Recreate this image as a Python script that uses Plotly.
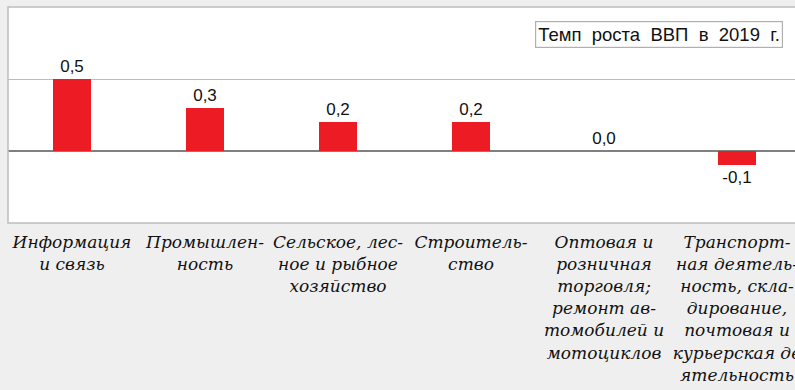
import plotly.graph_objects as go

# Отрасли и темп роста ВВП, 2019 г.
categories = [
    "Информация<br>и связь",
    "Промышлен-<br>ность",
    "Сельское, лес-<br>ное и рыбное<br>хозяйство",
    "Строитель-<br>ство",
    "Оптовая и<br>розничная<br>торговля;<br>ремонт ав-<br>томобилей и<br>мотоциклов",
    "Транспорт-<br>ная деятель-<br>ность, скла-<br>дирование,<br>почтовая и<br>курьерская де<br>ятельность",
]
growth = [0.5, 0.3, 0.2, 0.2, 0.0, -0.1]
series_name = "Темп роста ВВП в 2019 г."

labels = [f"{v:.1f}".replace(".", ",") for v in growth]
x_idx = list(range(len(categories)))

fig = go.Figure()
fig.add_trace(go.Bar(
    x=x_idx,
    y=growth,
    width=0.286,
    marker=dict(color="#ED1C24", line=dict(width=0)),
    text=labels,
    textposition="outside",
    textfont=dict(family="Liberation Sans, Arial, sans-serif", size=17, color="#111111"),
    cliponaxis=False,
    name=series_name,
    showlegend=False,
))

# рамка области построения (правый край уходит за пределы полотна)
fig.add_shape(type="rect", xref="paper", yref="paper", x0=0, x1=1.02, y0=0, y1=1,
              line=dict(color="#BDBDBD", width=1.5), layer="above")

# подпись ряда в рамке
fig.add_annotation(
    xref="paper", yref="paper", x=0.985, y=0.875, xanchor="right", yanchor="middle",
    text=series_name.replace(" ", " \u00a0"),
    showarrow=False,
    font=dict(family="Liberation Sans, Arial, sans-serif", size=18.5, color="#111111"),
    bordercolor="#B0B0B0", borderwidth=1.2, borderpad=2, bgcolor="#FFFFFF",
)

fig.update_layout(
    width=795, height=390,
    margin=dict(l=8, r=0, t=7, b=167),
    paper_bgcolor="#EFEFEF",
    plot_bgcolor="#FFFFFF",
    separators=", ",
    bargap=0,
)
fig.update_xaxes(
    range=[-0.481, 5.436],
    tickmode="array", tickvals=x_idx, ticktext=categories,
    tickfont=dict(family="DejaVu Serif, serif", size=17, color="#111111", style="italic"),
    tickangle=0, ticks="", showline=False, showgrid=False, zeroline=False,
    ticklabeloverflow="allow", ticklabelstandoff=7,
    automargin=False,
)
fig.update_yaxes(
    range=[-0.5, 1.0],
    tickvals=[0.5], showticklabels=False,
    showgrid=True, gridcolor="#BBBBBB", gridwidth=1.2,
    zeroline=True, zerolinecolor="#808080", zerolinewidth=1.5,
    showline=False,
)

fig.write_html("out.html")
